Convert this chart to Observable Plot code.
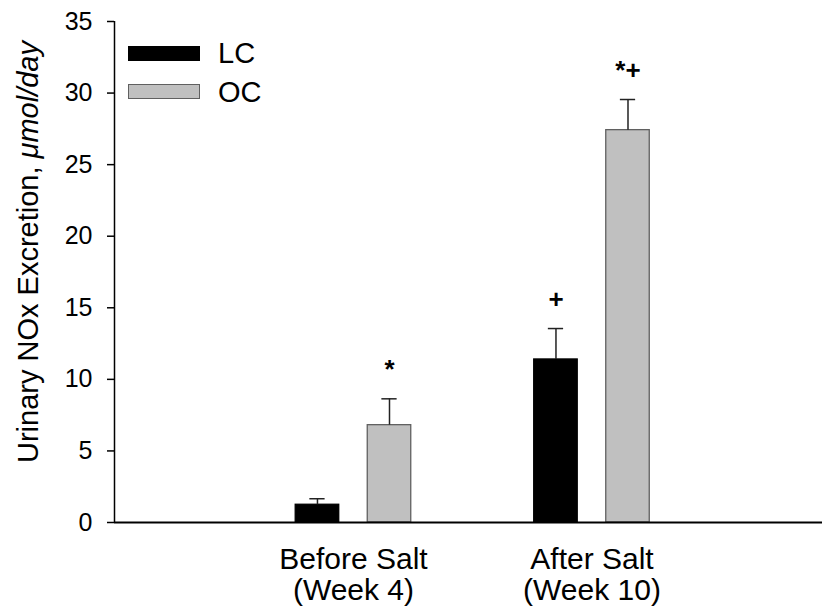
<!DOCTYPE html>
<html>
<head>
<meta charset="utf-8">
<script src="https://cdn.jsdelivr.net/npm/d3@7"></script>
<script src="https://cdn.jsdelivr.net/npm/@observablehq/plot@0.6"></script>
<style>
  html, body { margin: 0; padding: 0; background: #fff; }
  #chart { position: relative; width: 827px; height: 615px; font-family: "Liberation Sans", Arial, sans-serif; }
  #legend { position: absolute; left: 128px; top: 38px; display: flex; flex-direction: column; gap: 8.5px; }
  .row { display: flex; align-items: center; height: 30px; }
  .sw { width: 72px; height: 15px; box-sizing: border-box; }
  .lab { margin-left: 18px; font-size: 29px; color: #000; line-height: 30px; }
</style>
</head>
<body>
<div id="chart"></div>
<script>
// Urinary NOx excretion, mean ± SE, by diet group before and after salt loading
const groups = ["Before Salt\n(Week 4)", "After Salt\n(Week 10)"];
const series = ["LC", "OC"];
const lcMean = [1.24, 11.39];
const lcSE = [0.42, 2.16];
const ocMean = [6.80, 27.41];
const ocSE = [1.84, 2.14];
const lcSig = ["", "+"];
const ocSig = ["*", "*+"];
const yTicks = [0, 5, 10, 15, 20, 25, 30, 35];
const yTitle = "Urinary NOx Excretion, ";
const yUnit = "\u03bcmol/day";

const fills = ["#000000", "#c0c0c0"];
const strokes = ["#000000", "#606060"];

// Flat table built from the arrays above
const rows = [];
groups.forEach((g, gi) => {
  rows.push({gi, si: 0, mean: lcMean[gi], se: lcSE[gi], sig: lcSig[gi]});
  rows.push({gi, si: 1, mean: ocMean[gi], se: ocSE[gi], sig: ocSig[gi]});
});

// Layout along x in group units: group centres at 0 and 1
const seriesGap = 0.302;   // distance between the two bars of a group
const barHalf = 0.0912;    // half bar width
const capHalf = 0.032;     // half error-cap width
const center = d => d.gi + (d.si - 0.5) * seriesGap;
const xDomain = [-1.002, 1.9665];

const plot = Plot.plot({
  width: 827,
  height: 615,
  marginLeft: 114,
  marginRight: 5,
  marginTop: 21,
  marginBottom: 93,
  style: {fontFamily: "Liberation Sans, Arial, sans-serif", color: "#000", background: "#fff", overflow: "visible"},
  x: {type: "linear", domain: xDomain},
  y: {domain: [0, 35]},
  marks: [
    Plot.rectY(rows, {
      x1: d => center(d) - barHalf,
      x2: d => center(d) + barHalf,
      y1: 0,
      y2: "mean",
      fill: d => fills[d.si],
      stroke: d => strokes[d.si],
      strokeWidth: 1.3
    }),
    Plot.ruleX(rows, {x: center, y1: "mean", y2: d => d.mean + d.se, stroke: "#222", strokeWidth: 1.5}),
    Plot.ruleY(rows, {y: d => d.mean + d.se, x1: d => center(d) - capHalf, x2: d => center(d) + capHalf, stroke: "#222", strokeWidth: 1.5}),
    Plot.text(rows.filter(d => d.sig), {
      x: center,
      y: d => d.mean + d.se,
      text: "sig",
      dy: -29,
      lineAnchor: "middle",
      fontSize: 26,
      fontWeight: "bold",
      fill: "#000",
      ariaLabel: "significance"
    }),
    Plot.ruleY([0], {stroke: "#000", strokeWidth: 2.2}),
    Plot.ruleX([xDomain[0]], {stroke: "#000", strokeWidth: 1.5}),
    Plot.axisY({ticks: yTicks, tickSize: 7, tickPadding: 15, fontSize: 25, label: null, strokeWidth: 1.5}),
    Plot.axisX({ticks: [0, 1], tickFormat: i => groups[i], tickSize: 0, tickPadding: 25, fontSize: 30, lineHeight: 1.03, label: null}),
    Plot.text([yTitle + yUnit], {frameAnchor: "left", textAnchor: "middle", rotate: -90, dx: -86, dy: -20, fontSize: 29, lineAnchor: "middle", fill: "#000"})
  ]
});

const ns = "http://www.w3.org/2000/svg";

// Italic unit in the y title
const titleEl = [...plot.querySelectorAll("text")].find(e => e.textContent === yTitle + yUnit);
if (titleEl) {
  const target = titleEl.querySelector("tspan") || titleEl;
  target.textContent = "";
  const a = document.createElementNS(ns, "tspan");
  a.textContent = yTitle;
  const b = document.createElementNS(ns, "tspan");
  b.textContent = yUnit;
  b.setAttribute("font-style", "italic");
  target.appendChild(a);
  target.appendChild(b);
}

// Asterisks sit on the same line as the plus signs
plot.querySelectorAll('g[aria-label="significance"] text').forEach(t => {
  const s = t.textContent;
  t.textContent = "";
  for (const ch of s) {
    const sp = document.createElementNS(ns, "tspan");
    sp.textContent = ch;
    if (ch === "*") {
      sp.setAttribute("dy", "0.28em");
      t.appendChild(sp);
      const back = document.createElementNS(ns, "tspan");
      back.setAttribute("dy", "-0.28em");
      back.textContent = "";
      t.appendChild(back);
    } else {
      t.appendChild(sp);
    }
  }
});

const chart = document.getElementById("chart");
chart.appendChild(plot);

// Legend inside the plot area
const legend = document.createElement("div");
legend.id = "legend";
series.forEach((s, i) => {
  const row = document.createElement("div");
  row.className = "row";
  const sw = document.createElement("div");
  sw.className = "sw";
  sw.style.background = fills[i];
  sw.style.border = `1.5px solid ${strokes[i]}`;
  const lab = document.createElement("span");
  lab.className = "lab";
  lab.textContent = s;
  row.appendChild(sw);
  row.appendChild(lab);
  legend.appendChild(row);
});
chart.appendChild(legend);
</script>
</body>
</html>
